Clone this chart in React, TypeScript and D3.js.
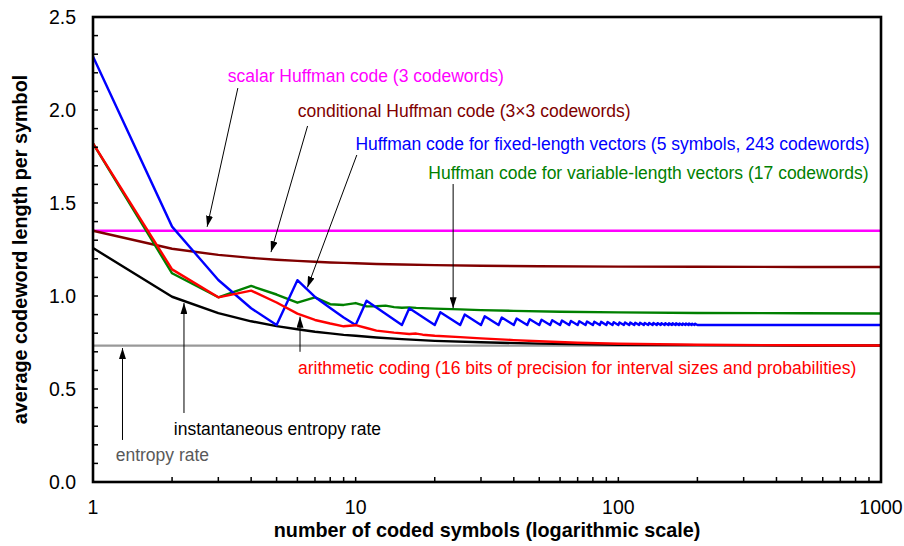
import React from 'react';
import * as d3 from 'd3';

const W = 904;
const H = 546;
const margin = { top: 17, right: 23, bottom: 64, left: 93 };
const FONT = '"Liberation Sans", Arial, Helvetica, sans-serif';

// horizontal reference lines
const entropyRate = 0.733;
const scalarHuffman = 1.351;

// conditional Huffman code (3x3 codewords)
const condN = [1, 2, 3, 4, 5, 6, 7, 8, 9, 10, 12, 15, 20, 30, 50, 100, 200, 500, 1000];
const condL = [1.351, 1.254, 1.221, 1.205, 1.195, 1.189, 1.184, 1.18, 1.178, 1.176, 1.172, 1.169, 1.166, 1.163, 1.16, 1.158, 1.157, 1.156, 1.156];

// instantaneous entropy rate
const instN = [1, 2, 3, 4, 5, 6, 7, 8, 9, 10, 12, 15, 20, 30, 50, 100, 200, 500, 1000];
const instL = [1.258, 0.996, 0.908, 0.864, 0.838, 0.821, 0.808, 0.799, 0.791, 0.786, 0.777, 0.768, 0.759, 0.751, 0.744, 0.738, 0.736, 0.734, 0.734];

// arithmetic coding
const arithN = [1, 2, 3, 4, 5, 6, 7, 8, 9, 10, 11, 12, 14, 16, 17, 18, 20, 25, 30, 40, 50, 70, 100, 200, 500, 1000];
const arithL = [1.821, 1.143, 0.993, 1.029, 0.965, 0.905, 0.871, 0.852, 0.837, 0.843, 0.828, 0.814, 0.803, 0.796, 0.798, 0.792, 0.786, 0.779, 0.772, 0.763, 0.757, 0.749, 0.743, 0.738, 0.735, 0.734];

// Huffman code for variable-length vectors
const varN = [1, 2, 3, 4, 5, 6, 7, 8, 9, 10, 11, 12, 13, 14, 15, 16, 17, 20, 25, 30, 40, 60, 100, 200, 500, 1000];
const varL = [1.821, 1.122, 0.993, 1.054, 1.008, 0.964, 0.993, 0.956, 0.952, 0.962, 0.944, 0.945, 0.948, 0.94, 0.937, 0.939, 0.936, 0.932, 0.928, 0.924, 0.92, 0.915, 0.912, 0.909, 0.907, 0.906];

// Huffman code for fixed-length vectors (5 symbols)
const fixN = [1, 2, 3, 4, 5, 6, 7, 8, 9, 10, 11, 15, 16, 20, 21, 25, 26, 30, 31, 35, 36, 40, 41, 45, 46, 50, 51,
  55, 56, 60, 61, 65, 66, 70, 71, 75, 76, 80, 81, 85, 86, 90, 91, 95, 96, 100, 101, 105, 106, 110, 111,
  115, 116, 120, 121, 125, 126, 130, 131, 135, 136, 140, 141, 145, 146, 150, 151, 155, 156, 160, 161,
  165, 166, 170, 171, 175, 176, 180, 181, 185, 186, 190, 191, 195, 196, 200, 1000];
const fixL = [2.287, 1.373, 1.086, 0.934, 0.844, 1.085, 0.995, 0.935, 0.884, 0.844, 0.975, 0.844, 0.934, 0.844, 0.913, 0.844, 0.9, 0.844, 0.891, 0.844, 0.884, 0.844, 0.879, 0.844, 0.875, 0.844, 0.872,
  0.844, 0.87, 0.844, 0.868, 0.844, 0.866, 0.844, 0.864, 0.844, 0.863, 0.844, 0.862, 0.844, 0.861, 0.844, 0.86, 0.844, 0.859, 0.844, 0.858, 0.844, 0.858, 0.844, 0.857,
  0.844, 0.856, 0.844, 0.856, 0.844, 0.855, 0.844, 0.855, 0.844, 0.855, 0.844, 0.854, 0.844, 0.854, 0.844, 0.854, 0.844, 0.853, 0.844, 0.853,
  0.844, 0.853, 0.844, 0.852, 0.844, 0.852, 0.844, 0.852, 0.844, 0.852, 0.844, 0.851, 0.844, 0.851, 0.844, 0.844];

const xTickLabels = [1, 10, 100, 1000];
const yTickLabels = [0, 0.5, 1, 1.5, 2, 2.5];

// annotations: text anchor and arrow (tail -> tip) in data coordinates
const notes = [
  { text: 'scalar Huffman code (3 codewords)', color: '#FF00FF', at: [3.26, 2.151], from: [3.56, 2.118], to: [2.72, 1.372] },
  { text: 'conditional Huffman code (3\u00d73 codewords)', color: '#800000', at: [6.02, 1.962], from: [6.56, 1.914], to: [4.76, 1.236] },
  { text: 'Huffman code for fixed-length vectors (5 symbols, 243 codewords)', color: '#0000FF', at: [9.98, 1.785], from: [10.1, 1.758], to: [6.55, 1.046] },
  { text: 'Huffman code for variable-length vectors (17 codewords)', color: '#008000', at: [18.9, 1.629], from: [23.5, 1.602], to: [23.5, 0.934] },
  { text: 'arithmetic coding (16 bits of precision for interval sizes and probabilities)', color: '#FF0000', at: [6.03, 0.581], from: [6.14, 0.7], to: [6.14, 0.889] },
  { text: 'instantaneous entropy rate', color: '#000000', at: [2.03, 0.253], from: [2.22, 0.371], to: [2.22, 0.962] },
  { text: 'entropy rate', color: '#595959', at: [1.22, 0.113], from: [1.295, 0.226], to: [1.295, 0.72] },
];

export default function App() {
  const x = d3.scaleLog().domain([1, 1000]).range([margin.left, W - margin.right]);
  const y = d3.scaleLinear().domain([0, 2.5]).range([H - margin.bottom, margin.top]);

  const line = d3.line<[number, number]>()
    .x(d => x(d[0]))
    .y(d => y(d[1]));
  const zip = (ns: number[], ls: number[]) => ns.map((n, i) => [n, ls[i]] as [number, number]);

  const series = [
    { pts: [[1, entropyRate], [1000, entropyRate]] as [number, number][], color: '#999999' },
    { pts: [[1, scalarHuffman], [1000, scalarHuffman]] as [number, number][], color: '#FF00FF' },
    { pts: zip(condN, condL), color: '#800000' },
    { pts: zip(instN, instL), color: '#000000' },
    { pts: zip(varN, varL), color: '#008000' },
    { pts: zip(fixN, fixL), color: '#0000FF' },
    { pts: zip(arithN, arithL), color: '#FF0000' },
  ];

  const x0 = margin.left;
  const x1 = W - margin.right;
  const y0 = H - margin.bottom;
  const y1 = margin.top;

  return (
    <svg width={W} height={H} style={{ position: 'absolute', left: 0, top: 0, background: '#fff' }} fontFamily={FONT}>
      <defs>
        <marker id="head" viewBox="0 0 11 7" refX="11" refY="3.5" markerWidth="11" markerHeight="7"
          markerUnits="userSpaceOnUse" orient="auto">
          <path d="M0,0 L11,3.5 L0,7 z" fill="#000" />
        </marker>
      </defs>

      {series.map((s, i) => (
        <path key={i} d={line(s.pts) || ''} fill="none" stroke={s.color} strokeWidth={2.4} strokeLinejoin="round" />
      ))}

      {notes.map((n, i) => (
        <g key={i}>
          <line x1={x(n.from[0])} y1={y(n.from[1])} x2={x(n.to[0])} y2={y(n.to[1])}
            stroke="#000" strokeWidth={1} markerEnd="url(#head)" />
          <text x={x(n.at[0])} y={y(n.at[1])} fill={n.color} fontSize={17.5}>{n.text}</text>
        </g>
      ))}

      {/* ticks (inward) */}
      {x.ticks().map((t, i) => (
        <line key={'xt' + i} x1={x(t)} x2={x(t)} y1={y0} y2={y0 - 5} stroke="#000" strokeWidth={1.5} />
      ))}
      {y.ticks(25).map((t, i) => (
        <line key={'yt' + i} x1={x0} x2={x0 + 5} y1={y(t)} y2={y(t)} stroke="#000" strokeWidth={1.5} />
      ))}

      <rect x={x0} y={y1} width={x1 - x0} height={y0 - y1} fill="none" stroke="#000" strokeWidth={2.6} />

      {xTickLabels.map(t => (
        <text key={'xl' + t} x={x(t)} y={y0 + 32} textAnchor="middle" fontSize={19.5} fill="#000">{t}</text>
      ))}
      {yTickLabels.map(t => (
        <text key={'yl' + t} x={x0 - 17} y={y(t)} dy="0.36em" textAnchor="end" fontSize={19.5} fill="#000">{t.toFixed(1)}</text>
      ))}

      <text x={(x0 + x1) / 2} y={537} textAnchor="middle" fontSize={19.8} fontWeight="bold" fill="#000">
        number of coded symbols (logarithmic scale)
      </text>
      <text transform={`translate(27,${(y0 + y1) / 2}) rotate(-90)`} textAnchor="middle" fontSize={19.8}
        fontWeight="bold" fill="#000">
        average codeword length per symbol
      </text>
    </svg>
  );
}
